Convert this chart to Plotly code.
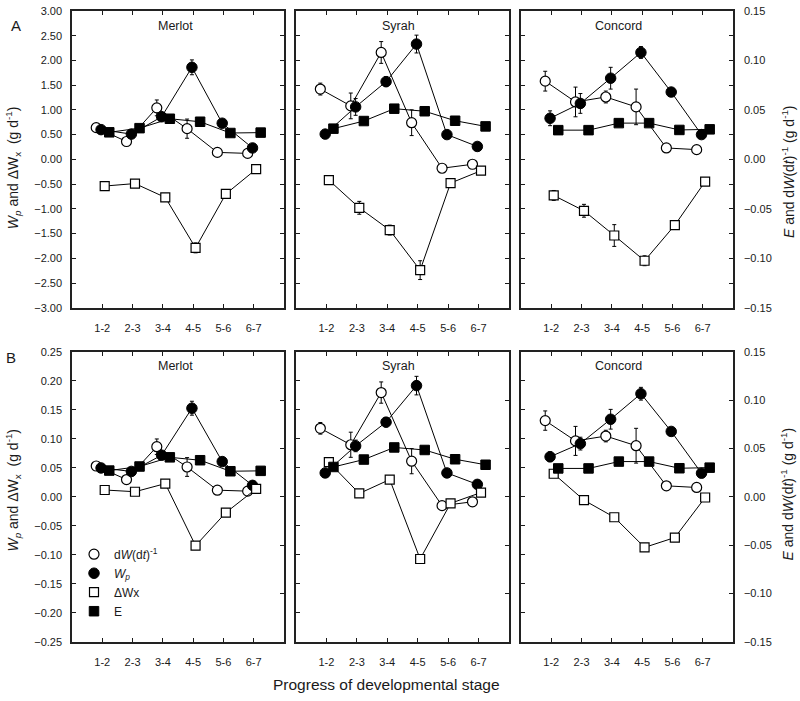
import plotly.graph_objects as go

stages = ["1-2", "2-3", "3-4", "4-5", "5-6", "6-7"]
cultivars = ["Merlot", "Syrah", "Concord"]

# Right-axis quantities (same in both rows), g d-1
merlot_dw = [0.032, 0.018, 0.052, 0.031, 0.007, 0.006]
syrah_dw = [0.071, 0.054, 0.108, 0.037, -0.009, -0.005]
concord_dw = [0.079, 0.058, 0.063, 0.053, 0.0115, 0.0098]
merlot_dw_err = [0.002, 0.002, 0.008, 0.0097, 0.001, 0.001]
syrah_dw_err = [0.006, 0.013, 0.011, 0.013, 0.002, 0.002]
concord_dw_err = [0.010, 0.015, 0.006, 0.018, 0.001, 0.001]

merlot_e = [0.0273, 0.0315, 0.041, 0.038, 0.0266, 0.027]
syrah_e = [0.031, 0.0387, 0.0512, 0.0486, 0.039, 0.0333]
concord_e = [0.0295, 0.0295, 0.0366, 0.0366, 0.0297, 0.0303]
merlot_e_err = [0.001, 0.001, 0.0015, 0.0015, 0.001, 0.001]
syrah_e_err = [0.001, 0.0015, 0.0015, 0.0015, 0.001, 0.001]
concord_e_err = [0.001, 0.001, 0.0015, 0.0015, 0.001, 0.001]

# Row A left-axis quantities
a_merlot_wp = [0.60, 0.51, 0.86, 1.86, 0.73, 0.23]
a_syrah_wp = [0.51, 1.06, 1.57, 2.33, 0.50, 0.26]
a_concord_wp = [0.83, 1.13, 1.64, 2.16, 1.36, 0.50]
a_merlot_wp_err = [0.03, 0.03, 0.05, 0.15, 0.03, 0.03]
a_syrah_wp_err = [0.03, 0.17, 0.10, 0.18, 0.03, 0.03]
a_concord_wp_err = [0.15, 0.20, 0.22, 0.12, 0.03, 0.03]

a_merlot_dwx = [-0.54, -0.49, -0.77, -1.79, -0.70, -0.20]
a_syrah_dwx = [-0.42, -0.98, -1.43, -2.24, -0.48, -0.23]
a_concord_dwx = [-0.73, -1.04, -1.54, -2.05, -1.33, -0.45]
a_merlot_dwx_err = [0.02, 0.02, 0.03, 0.10, 0.03, 0.02]
a_syrah_dwx_err = [0.03, 0.13, 0.10, 0.19, 0.03, 0.02]
a_concord_dwx_err = [0.10, 0.13, 0.22, 0.10, 0.03, 0.02]

# Row B left-axis quantities
b_merlot_wp = [0.050, 0.044, 0.072, 0.153, 0.061, 0.020]
b_syrah_wp = [0.0414, 0.088, 0.129, 0.192, 0.0414, 0.0217]
b_concord_wp = [0.0693, 0.092, 0.134, 0.178, 0.113, 0.041]
b_merlot_wp_err = [0.002, 0.002, 0.003, 0.012, 0.002, 0.002]
b_syrah_wp_err = [0.002, 0.010, 0.008, 0.016, 0.002, 0.002]
b_concord_wp_err = [0.0085, 0.011, 0.017, 0.011, 0.002, 0.002]

b_merlot_dwx = [0.012, 0.009, 0.023, -0.084, -0.027, 0.014]
b_syrah_dwx = [0.060, 0.006, 0.030, -0.107, -0.011, 0.0076]
b_concord_dwx = [0.040, -0.0056, -0.035, -0.087, -0.070, -0.001]
b_merlot_dwx_err = [0.002, 0.002, 0.002, 0.003, 0.002, 0.002]
b_syrah_dwx_err = [0.002, 0.005, 0.006, 0.003, 0.002, 0.002]
b_concord_dwx_err = [0.004, 0.004, 0.005, 0.002, 0.002, 0.002]

dw = [merlot_dw, syrah_dw, concord_dw]
dw_err = [merlot_dw_err, syrah_dw_err, concord_dw_err]
e = [merlot_e, syrah_e, concord_e]
e_err = [merlot_e_err, syrah_e_err, concord_e_err]
wp = [[a_merlot_wp, a_syrah_wp, a_concord_wp], [b_merlot_wp, b_syrah_wp, b_concord_wp]]
wp_err = [[a_merlot_wp_err, a_syrah_wp_err, a_concord_wp_err],
          [b_merlot_wp_err, b_syrah_wp_err, b_concord_wp_err]]
dwx = [[a_merlot_dwx, a_syrah_dwx, a_concord_dwx], [b_merlot_dwx, b_syrah_dwx, b_concord_dwx]]
dwx_err = [[a_merlot_dwx_err, a_syrah_dwx_err, a_concord_dwx_err],
           [b_merlot_dwx_err, b_syrah_dwx_err, b_concord_dwx_err]]

left_ranges = [[-3.0, 3.0], [-0.25, 0.25]]
left_dticks = [0.5, 0.05]
right_range = [-0.15, 0.15]

FONT = "Liberation Sans, Arial, sans-serif"
INK = "#1a1a1a"
W, H = 800, 701
xdom_px = [(72, 284), (296, 509), (521, 733)]
ydom_px = [(5, 307), (352, 647)]

base_x = list(range(1, len(stages) + 1))
def shift(off):
    return [v + off for v in base_x]

fig = go.Figure()
layout = dict(
    width=W, height=H, margin=dict(l=0, r=0, t=0, b=0),
    paper_bgcolor="white", plot_bgcolor="white",
    font=dict(family=FONT, color=INK, size=11),
    showlegend=True,
)

def ax_name(prefix, i):
    return prefix if i == 1 else f"{prefix}{i}"

def err(arr):
    return dict(type="data", array=arr, color="black", thickness=1, width=2)

names = ["d<i>W</i>(d<i>t</i>)<sup>-1</sup>", "<i>W<sub>p</sub></i>", "ΔWx", "E"]
mk_dw = dict(symbol="circle", size=10, color="white", line=dict(color="black", width=1.2))
mk_wp = dict(symbol="circle", size=10.5, color="black", line=dict(color="black", width=1))
mk_dwx = dict(symbol="square", size=9, color="white", line=dict(color="black", width=1.2))
mk_e = dict(symbol="square", size=9.5, color="black", line=dict(color="black", width=1))
markers = [mk_dw, mk_wp, mk_dwx, mk_e]

for r in range(2):
    for c in range(3):
        k = r * 3 + c
        xi = k + 1
        ya, yb, yc = 3 * k + 1, 3 * k + 2, 3 * k + 3
        xref = ax_name("x", xi)
        yaref, ybref, ycref = ax_name("y", ya), ax_name("y", yb), ax_name("y", yc)
        line = dict(color="black", width=1)

        fig.add_trace(go.Scatter(
            x=shift(-0.2), y=dw[c], error_y=err(dw_err[c]), mode="lines+markers",
            line=line, marker=mk_dw, name=names[0], showlegend=False, xaxis=xref, yaxis=yaref))
        fig.add_trace(go.Scatter(
            x=shift(-0.04), y=wp[r][c], error_y=err(wp_err[r][c]), mode="lines+markers",
            line=line, marker=mk_wp, name=names[1], showlegend=False, xaxis=xref, yaxis=ybref))
        fig.add_trace(go.Scatter(
            x=shift(0.08), y=dwx[r][c], error_y=err(dwx_err[r][c]), mode="lines+markers",
            line=line, marker=mk_dwx, name=names[2], showlegend=False, xaxis=xref, yaxis=ybref))
        fig.add_trace(go.Scatter(
            x=shift(0.23), y=e[c], error_y=err(e_err[c]), mode="lines+markers",
            line=line, marker=mk_e, name=names[3], showlegend=False, xaxis=xref, yaxis=ycref))

        x0, x1 = xdom_px[c]
        t0, t1 = ydom_px[r]
        ydom = [1 - t1 / H, 1 - t0 / H]
        layout["xaxis" + ("" if xi == 1 else str(xi))] = dict(
            domain=[x0 / W, x1 / W], range=[0, 7], anchor=yaref,
            tickmode="array", tickvals=base_x, ticktext=stages,
            ticks="inside", ticklen=4, tickcolor=INK, showline=True, linecolor="#222",
            linewidth=1.5, mirror="ticks", showgrid=False, zeroline=False,
            tickfont=dict(size=11, family=FONT), ticklabelstandoff=9)
        right_ax = dict(
            domain=ydom, range=right_range, anchor=xref, side="right",
            tickmode="linear", tick0=0, dtick=0.05, tickformat=".2f",
            ticks="inside", ticklen=4, tickcolor=INK, showline=True, linecolor="#222",
            linewidth=1.5, showgrid=False, zeroline=False,
            showticklabels=(c == 2), tickfont=dict(size=11, family=FONT), ticklabelstandoff=7)
        if r == 0:
            right_ax["minor"] = dict(ticks="inside", dtick=0.025, ticklen=4, tickcolor=INK, showgrid=False)
        layout["yaxis" + ("" if ya == 1 else str(ya))] = right_ax
        layout["yaxis" + str(yb)] = dict(
            range=left_ranges[r], anchor=xref, overlaying=yaref, side="left",
            tickmode="linear", tick0=0, dtick=left_dticks[r], tickformat=".2f",
            ticks="inside", ticklen=4, tickcolor=INK, showline=True, linecolor="#222",
            linewidth=1.5, showgrid=False, zeroline=False,
            showticklabels=(c == 0), tickfont=dict(size=11, family=FONT), ticklabelstandoff=6)
        layout["yaxis" + str(yc)] = dict(
            range=right_range, anchor=xref, overlaying=yaref, side="right",
            visible=False, showgrid=False, zeroline=False)

# legend entries (markers with error bars), no data drawn
for nm, mk in zip(names, markers):
    fig.add_trace(go.Scatter(x=[None], y=[None], mode="markers", marker=mk, name=nm,
                             showlegend=True, xaxis="x4", yaxis="y11"))

annotations = []
title_px = {"Merlot": 175, "Syrah": 398, "Concord": 618}
for r, ty in enumerate([20, 366]):
    for c, cv in enumerate(cultivars):
        annotations.append(dict(text=cv, x=title_px[cv] / W, y=1 - ty / H, xref="paper", yref="paper",
                                showarrow=False, font=dict(size=12.5, family=FONT, color=INK),
                                xanchor="center", yanchor="middle"))
annotations.append(dict(text="A", x=16 / W, y=1 - 20 / H, xref="paper", yref="paper", showarrow=False,
                        font=dict(size=15, family=FONT, color=INK), xanchor="center", yanchor="middle"))
annotations.append(dict(text="B", x=11 / W, y=1 - 358 / H, xref="paper", yref="paper", showarrow=False,
                        font=dict(size=15, family=FONT, color=INK), xanchor="center", yanchor="middle"))
left_title = "<i>W<sub>p</sub></i> and ΔW<sub>x</sub>  (g d<sup>-1</sup>)"
right_title = "<i>E</i> and d<i>W</i>(d<i>t</i>)<sup>-1</sup> (g d<sup>-1</sup>)"
for cy in [165, 493]:
    annotations.append(dict(text=left_title, x=13 / W, y=1 - cy / H, xref="paper", yref="paper",
                            showarrow=False, textangle=-90, font=dict(size=14, family=FONT, color=INK),
                            xanchor="center", yanchor="middle"))
    annotations.append(dict(text=right_title, x=788 / W, y=1 - (cy + 4) / H, xref="paper", yref="paper",
                            showarrow=False, textangle=-90, font=dict(size=14, family=FONT, color=INK),
                            xanchor="center", yanchor="middle"))
annotations.append(dict(text="Progress of developmental stage", x=386 / W, y=1 - 690 / H,
                        xref="paper", yref="paper", showarrow=False,
                        font=dict(size=15.5, family=FONT, color=INK), xanchor="center", yanchor="middle"))
layout["annotations"] = annotations
layout["legend"] = dict(x=74 / W, y=1 - 543 / H, xanchor="left", yanchor="top",
                        bgcolor="rgba(0,0,0,0)", font=dict(size=12, family=FONT, color=INK),
                        itemwidth=30, tracegroupgap=0)

fig.update_layout(**layout)
fig.write_html("out.html", config={"displayModeBar": False},
               post_script="document.body.style.margin='0px';")
